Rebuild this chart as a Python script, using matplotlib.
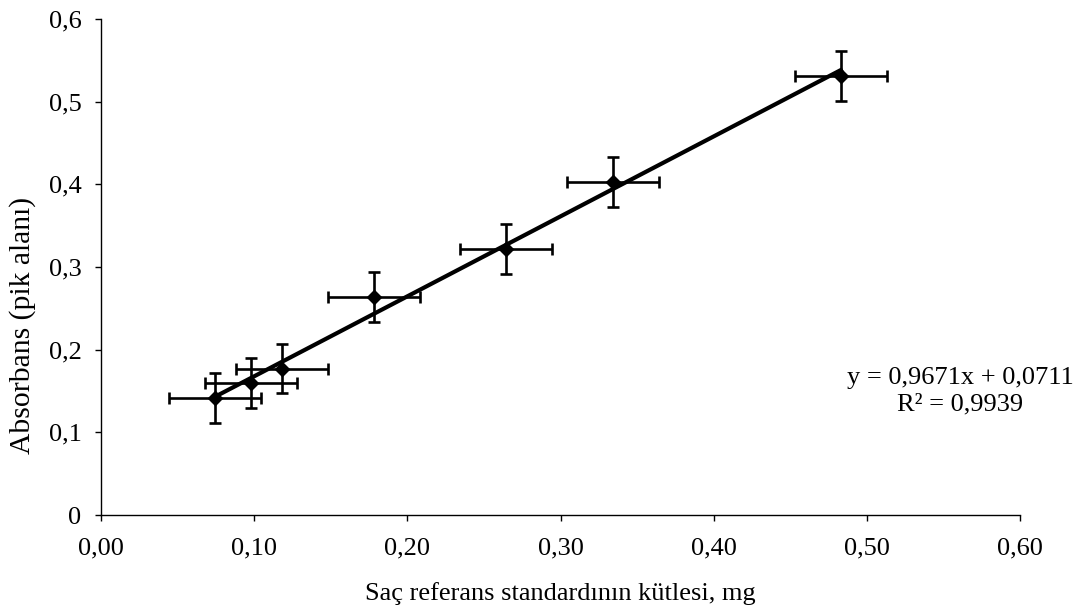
#!/usr/bin/env python3
"""Calibration curve: absorbance vs. hair reference standard mass."""

import matplotlib

matplotlib.use("Agg")
import matplotlib.pyplot as plt
from matplotlib.ticker import FuncFormatter, MultipleLocator

# values
mass_mg = [0.0744, 0.0979, 0.118, 0.178, 0.2644, 0.334, 0.483]
absorbance = [0.1415, 0.160, 0.177, 0.264, 0.322, 0.403, 0.531]
mass_err = [0.030, 0.030, 0.030, 0.030, 0.030, 0.030, 0.030]
absorbance_err = [0.030, 0.030, 0.030, 0.030, 0.030, 0.030, 0.030]

slope = 0.9671
intercept = 0.0711
r_squared = 0.9939

x_label = "Saç referans standardının kütlesi, mg"
y_label = "Absorbans (pik alanı)"


def comma(value, decimals):
    return f"{value:.{decimals}f}".replace(".", ",")


def main() -> None:
    plt.rcParams["font.family"] = ["Liberation Serif", "DejaVu Serif"]
    fig = plt.figure(figsize=(10.9, 6.1), dpi=100)
    ax = fig.add_axes([0.0927, 0.1557, 0.8431, 0.8132])

    x_fit = [min(mass_mg), max(mass_mg)]
    y_fit = [slope * v + intercept for v in x_fit]
    ax.plot(x_fit, y_fit, color="black", linewidth=3.0, zorder=2)

    ax.errorbar(
        mass_mg,
        absorbance,
        xerr=mass_err,
        yerr=absorbance_err,
        fmt="D",
        color="black",
        markersize=7.5,
        ecolor="black",
        elinewidth=1.9,
        capsize=4.3,
        capthick=1.9,
        zorder=3,
    )

    ax.set_xlim(0, 0.6)
    ax.set_ylim(0, 0.6)
    ax.xaxis.set_major_locator(MultipleLocator(0.1))
    ax.yaxis.set_major_locator(MultipleLocator(0.1))
    ax.xaxis.set_major_formatter(FuncFormatter(lambda v, _: comma(v, 2)))
    ax.yaxis.set_major_formatter(FuncFormatter(lambda v, _: "0" if abs(v) < 1e-9 else comma(v, 1)))
    ax.tick_params(direction="out", length=4.5, width=1, labelsize=19)
    ax.tick_params(axis="x", pad=12)
    ax.tick_params(axis="y", pad=9.5)
    ax.spines[["top", "right"]].set_visible(False)
    ax.spines[["left", "bottom"]].set_linewidth(1)
    ax.set_xlabel(x_label, fontsize=19, labelpad=16)
    ax.set_ylabel(y_label, fontsize=21.3)
    ax.yaxis.set_label_coords(-0.071, 0.383)

    fig.text(
        960 / 1090,
        1 - 391 / 610,
        f"y = {comma(slope, 4)}x + {comma(intercept, 4)}\nR² = {comma(r_squared, 4)}",
        ha="center",
        va="center",
        multialignment="center",
        fontsize=19,
        linespacing=1.25,
    )

    fig.savefig("out.png", dpi=100)
    plt.close(fig)


if __name__ == "__main__":
    main()
